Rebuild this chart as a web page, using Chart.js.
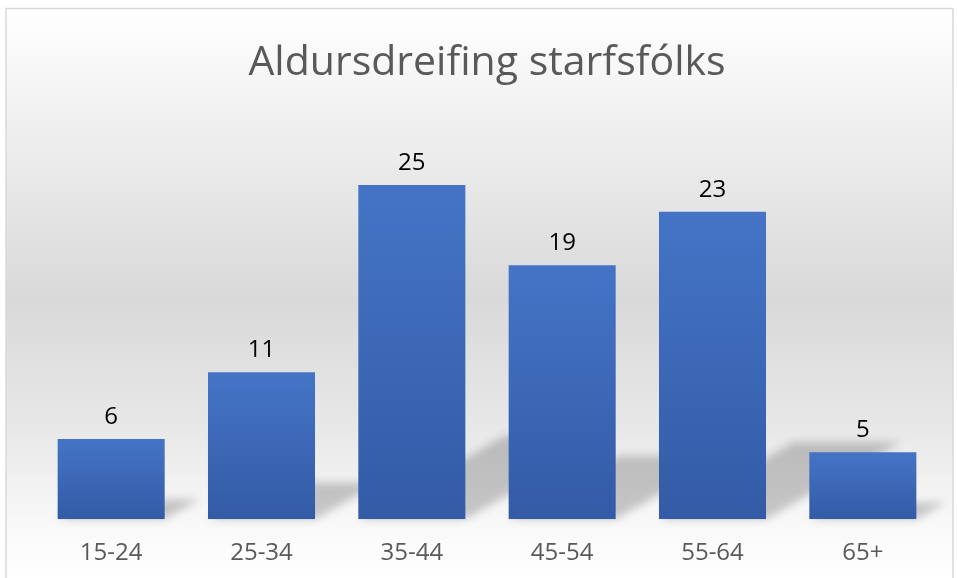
<!DOCTYPE html>
<html>
<head>
<meta charset="utf-8">
<script src="https://cdn.jsdelivr.net/npm/chart.js@4"></script>
<style>
  html, body { margin: 0; padding: 0; background: #ffffff; }
  #wrap { width: 957px; height: 578px; }
</style>
</head>
<body>
<div id="wrap"><canvas id="aldur" width="957" height="578"></canvas></div>
<script>
const ageGroups = ["15-24", "25-34", "35-44", "45-54", "55-64", "65+"];
const staffCount = [6, 11, 25, 19, 23, 5];
const yMax = 30;

const textFont = "'Open Sans', 'DejaVu Sans', sans-serif";

// background panel + border
const backgroundPlugin = {
  id: "panel",
  beforeDraw(chart) {
    const ctx = chart.ctx;
    ctx.save();
    ctx.fillStyle = "#ffffff";
    ctx.fillRect(0, 0, chart.width, chart.height);
    const g = ctx.createLinearGradient(0, 8, 0, 578);
    g.addColorStop(0, "#ffffff");
    g.addColorStop(0.16, "#f3f3f3");
    g.addColorStop(0.51, "#d9d9d9");
    g.addColorStop(0.74, "#e8e8e8");
    g.addColorStop(0.9, "#f8f8f8");
    g.addColorStop(1, "#ffffff");
    ctx.fillStyle = g;
    ctx.fillRect(6, 8, 947, 580);
    ctx.strokeStyle = "#d9d9d9";
    ctx.lineWidth = 1.5;
    ctx.strokeRect(6, 8.5, 947, 590);
    ctx.restore();
  }
};

// perspective shadow behind each bar
const shadowPlugin = {
  id: "barShadow",
  beforeDatasetsDraw(chart) {
    const ctx = chart.ctx;
    const meta = chart.getDatasetMeta(0);
    ctx.save();
    ctx.filter = "blur(4px)";
    ctx.fillStyle = "rgba(0,0,0,0.2)";
    meta.data.forEach((bar) => {
      const h = bar.base - bar.y;
      const sh = h * 0.25;
      const dx = sh * 1.75;
      const left = bar.x - bar.width / 2;
      const right = bar.x + bar.width / 2;
      ctx.beginPath();
      ctx.moveTo(left, bar.base);
      ctx.lineTo(right, bar.base);
      ctx.lineTo(right + dx, bar.base - sh);
      ctx.lineTo(left + dx, bar.base - sh);
      ctx.closePath();
      ctx.fill();
    });
    ctx.restore();
  }
};

// value labels above the bars
const valueLabels = {
  id: "valueLabels",
  afterDatasetsDraw(chart) {
    const ctx = chart.ctx;
    const meta = chart.getDatasetMeta(0);
    ctx.save();
    ctx.font = "24px " + textFont;
    ctx.fillStyle = "#000000";
    ctx.textAlign = "center";
    ctx.textBaseline = "alphabetic";
    meta.data.forEach((bar, i) => {
      ctx.fillText(String(staffCount[i]), bar.x, bar.y - 15);
    });
    ctx.restore();
  }
};

function barFill(context) {
  const chart = context.chart;
  const y = chart.scales.y;
  if (!y || context.raw === undefined) return "#4472c4";
  const top = y.getPixelForValue(context.raw);
  const bottom = y.getPixelForValue(0);
  if (!isFinite(top) || !isFinite(bottom) || top === bottom) return "#4472c4";
  const g = chart.ctx.createLinearGradient(0, top, 0, bottom);
  g.addColorStop(0, "#4574c6");
  g.addColorStop(1, "#335ba6");
  return g;
}

new Chart(document.getElementById("aldur"), {
  type: "bar",
  data: {
    labels: ageGroups,
    datasets: [
      {
        label: "Starfsfólk",
        data: staffCount,
        backgroundColor: barFill,
        borderWidth: 0,
        barPercentage: 0.712,
        categoryPercentage: 1.0,
      },
    ],
  },
  options: {
    responsive: false,
    animation: false,
    layout: {
      padding: { left: 36, right: 19, top: 0, bottom: -10 },
    },
    plugins: {
      legend: { display: false },
      tooltip: { enabled: false },
      title: {
        display: true,
        text: "Aldursdreifing starfsfólks",
        color: "#595959",
        font: { family: textFont, size: 41, weight: "normal" },
        padding: { top: 39, bottom: 30 },
      },
    },
    scales: {
      x: {
        grid: { display: false, drawTicks: false },
        border: { display: false },
        ticks: {
          color: "#595959",
          font: { family: textFont, size: 24 },
          padding: 20,
        },
      },
      y: {
        display: false,
        min: 0,
        max: yMax,
      },
    },
  },
  plugins: [backgroundPlugin, shadowPlugin, valueLabels],
});
</script>
</body>
</html>
